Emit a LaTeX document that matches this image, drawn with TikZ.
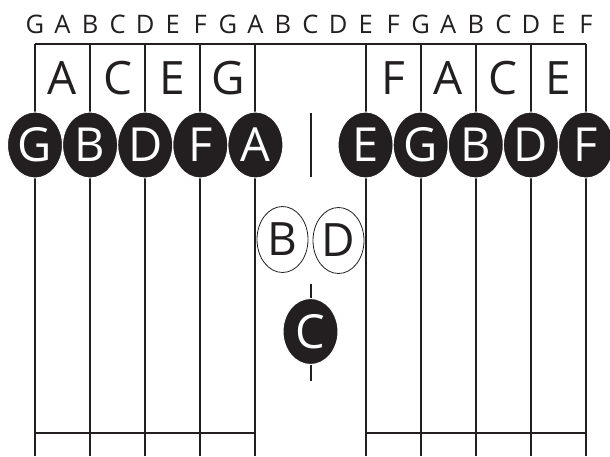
\documentclass[tikz,border=0pt]{standalone}
\usepackage{fontspec}
\setmainfont{Open Sans}
\usetikzlibrary{shapes.geometric}
\definecolor{ink}{HTML}{231F20}
\begin{document}
\begin{tikzpicture}[x=1pt,y=-1pt,
  staffline/.style={draw=ink,line width=2pt},
  bracketline/.style={draw=ink,line width=1.5pt},
  toplabel/.style={text=ink,inner sep=0pt,anchor=base,font=\fontsize{25.5}{25.5}\selectfont},
  spacelabel/.style={text=ink,inner sep=0pt,anchor=base,font=\fontsize{46}{46}\selectfont},
  fullnote/.style={ellipse,fill=ink,draw=white,line width=1pt,minimum width=55pt,minimum height=66pt,inner sep=0pt,text=white,font=\fontsize{47}{47}\selectfont},
  opennote/.style={ellipse,fill=white,draw=ink,line width=0.8pt,minimum width=51pt,minimum height=66pt,inner sep=0pt,text=ink,font=\fontsize{46}{46}\selectfont}
]
\useasboundingbox (0,0) rectangle (610,456);
% top letter row
\foreach \l [count=\k from 0] in {G,A,B,C,D,E,F,G,A,B,C,D,E,F,G,A,B,C,D,E,F}
  \node[toplabel] (top\k) at (35+27.55*\k,33.5) {\l};
% coordinates for staff lines
\foreach \i in {0,...,10}
  \coordinate (t\i) at (35+55.1*\i,44);
\foreach \i in {0,...,10}
  \coordinate (b\i) at (35+55.1*\i,456);
\foreach \i in {0,...,10}
  \coordinate (h\i) at (35+55.1*\i,432.7);
% top bracket
\draw[bracketline] (t0) -- (t10);
% vertical staff lines
\foreach \i in {0,1,2,3,4,6,7,8,9,10}
  \draw[staffline] (t\i) -- (b\i);
% bottom horizontal lines
\draw[staffline] (h0) -- (h4);
\draw[staffline] (h6) -- (h10);
% middle short line
\coordinate (m1) at (310.5,113);
\coordinate (m2) at (310.5,177);
\draw[staffline] (m1) -- (m2);
% middle C ledger
\coordinate (c1) at (310.5,284);
\coordinate (c2) at (310.5,381);
\draw[staffline] (c1) -- (c2);
% space letters
\foreach \l [count=\k from 0] in {A,C,E,G}
  \node[spacelabel] (sl\k) at (62.5+55.1*\k,94.5) {\l};
\foreach \l [count=\k from 0] in {F,A,C,E}
  \node[spacelabel] (sr\k) at (393+55.1*\k,94.5) {\l};
% line notes
\foreach \l [count=\k from 0] in {G,B,D,F,A}
  \node[fullnote] (nl\k) at (35+55.1*\k,145) {\l};
\foreach \l [count=\k from 6] in {E,G,B,D,F}
  \node[fullnote] (nr\k) at (35+55.1*\k,145) {\l};
% middle notes
\node[opennote] (nB) at (282.5,239.5) {B};
\node[opennote] (nD) at (338.5,240.5) {D};
\node[fullnote] (nC) at (310.5,331.5) {C};
\end{tikzpicture}
\end{document}
